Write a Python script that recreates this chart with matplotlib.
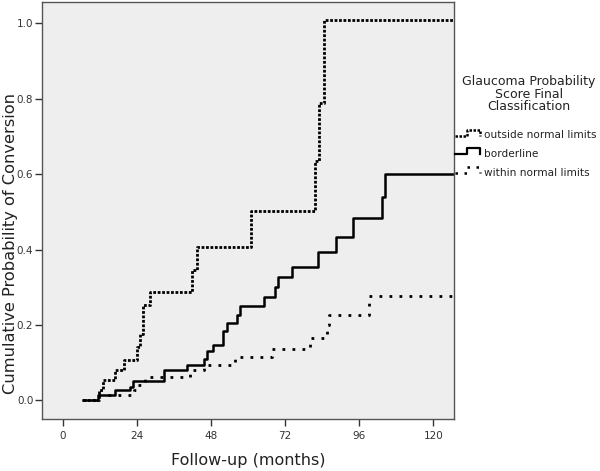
"""
Cumulative probability of conversion by GPS final classification
"""

import matplotlib
matplotlib.use('Agg')

import matplotlib.pyplot as plt
from matplotlib.lines import Line2D

# Step curves: (month, cumulative probability)
outside_t = [6.5, 11.9, 12.9, 16.9, 19.9, 23.9, 25.0, 25.9, 28.3, 41.8, 43.4,
             60.9, 81.7, 83.1, 84.6, 127.0]
outside_p = [0.0, 0.027, 0.053, 0.080, 0.106, 0.141, 0.177, 0.252, 0.287,
             0.345, 0.407, 0.502, 0.634, 0.790, 1.010, 1.010]

border_t = [6.5, 11.5, 16.9, 21.8, 22.7, 32.8, 40.1, 45.8, 46.6, 48.6, 52.0,
            53.1, 56.5, 57.4, 65.0, 68.8, 69.6, 74.2, 82.6, 88.5, 93.8, 103.3,
            104.4, 127.0]
border_p = [0.0, 0.013, 0.027, 0.035, 0.051, 0.080, 0.095, 0.110, 0.131, 0.146,
            0.183, 0.205, 0.227, 0.249, 0.274, 0.300, 0.327, 0.355, 0.393,
            0.432, 0.484, 0.539, 0.601, 0.601]

within_t = [6.5, 11.5, 23.0, 24.5, 26.7, 41.2, 45.8, 55.8, 67.7, 79.9, 85.5,
            86.2, 99.0, 127.0]
within_p = [0.0, 0.013, 0.027, 0.040, 0.062, 0.080, 0.095, 0.115, 0.137,
            0.166, 0.199, 0.227, 0.278, 0.278]

x_ticks = [0, 24, 48, 72, 96, 120]
y_ticks = [0.0, 0.2, 0.4, 0.6, 0.8, 1.0]
legend_title = 'Glaucoma Probability\nScore Final\nClassification'
legend_labels = ['outside normal limits', 'borderline', 'within normal limits']

dotted = (0, (1.0, 0.6))
dashed = (0, (1.0, 2.6))

fig = plt.figure(figsize=(6.0, 4.71), dpi=100)
ax = fig.add_axes([0.0695, 0.110, 0.6875, 0.886])
ax.set_facecolor('#eeeeee')

ax.plot(within_t, within_p, drawstyle='steps-post', color='black', lw=2.0,
        linestyle=dashed, solid_capstyle='butt', dash_capstyle='butt')
ax.plot(outside_t, outside_p, drawstyle='steps-post', color='black', lw=2.0,
        linestyle=dotted, dash_capstyle='butt')
ax.plot(border_t, border_p, drawstyle='steps-post', color='black', lw=1.8)

ax.set_xlim(-6.8, 126.7)
ax.set_ylim(-0.05, 1.057)
ax.set_xticks(x_ticks)
ax.set_yticks(y_ticks)
ax.set_yticklabels(['%.1f' % v for v in y_ticks])
ax.tick_params(direction='out', length=5, width=1, colors='#333333',
               labelsize=7.5, labelcolor='#333333')
ax.tick_params(axis='y', pad=1)
for spine in ax.spines.values():
    spine.set_color('#555555')
    spine.set_linewidth(1.0)

ax.set_xlabel('Follow-up (months)', fontsize=11.5, color='#222222', labelpad=9)
ax.set_ylabel('Cumulative Probability of Conversion', fontsize=11.7,
              color='#222222')
ax.yaxis.set_label_coords(-0.058, 0.422)

# legend drawn by hand with small step glyphs
W, H = 600.0, 471.0
fig.text(529 / W, 1 - 94 / H, legend_title, ha='center', va='center',
         fontsize=9, color='#222222', linespacing=0.95)
styles = [dict(linestyle=dotted, lw=1.8), dict(linestyle='-', lw=1.6),
          dict(linestyle=dashed, lw=1.8)]
for i, (label, st) in enumerate(zip(legend_labels, styles)):
    base = [135.5, 154.0, 172.5][i]
    xs = [455, 467, 467, 480, 480]
    ys = [base, base, base - 6, base - 6, base]
    fig.add_artist(Line2D([x / W for x in xs], [1 - y / H for y in ys],
                          transform=fig.transFigure, color='black',
                          dash_capstyle='butt', **st))
    fig.text(484 / W, 1 - base / H, label, ha='left', va='center',
             fontsize=7.6, color='#222222')

fig.savefig('out.png', dpi=100)
